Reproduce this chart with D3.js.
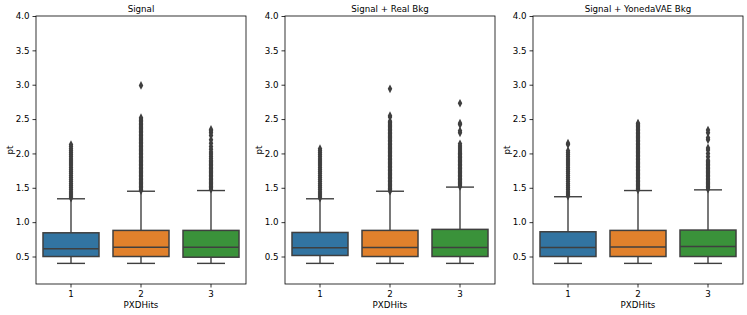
<!DOCTYPE html>
<html><head><meta charset="utf-8">
<script src="https://cdn.jsdelivr.net/npm/d3@7"></script>
<style>body{margin:0;background:#fff}svg{display:block}text{font-family:"DejaVu Sans",sans-serif}</style>
</head><body>
<svg id="c" width="747" height="315"></svg>
<script>
const titles = ["Signal", "Signal + Real Bkg", "Signal + YonedaVAE Bkg"];
const categories = ["1", "2", "3"];
const yTicks = [0.5, 1.0, 1.5, 2.0, 2.5, 3.0, 3.5, 4.0];
const colors = ["#3274a1", "#e1812c", "#3a923a"];

// per panel, per category
const whiskerLow = [[0.4, 0.4, 0.4], [0.4, 0.4, 0.4], [0.4, 0.4, 0.4]];
const q1 = [[0.5, 0.5, 0.49], [0.515, 0.5, 0.5], [0.5, 0.5, 0.5]];
const median = [[0.612, 0.635, 0.635], [0.627, 0.632, 0.63], [0.63, 0.64, 0.645]];
const q3 = [[0.845, 0.88, 0.88], [0.85, 0.88, 0.895], [0.86, 0.88, 0.885]];
const whiskerHigh = [[1.34, 1.45, 1.46], [1.34, 1.45, 1.51], [1.37, 1.46, 1.47]];

const outliers = [
  [
    [1.35,1.38,1.41,1.44,1.47,1.5,1.53,1.56,1.59,1.62,1.65,1.68,1.71,1.74,1.77,1.8,1.83,1.86,1.89,1.92,1.95,1.98,2.01,2.04,2.07,2.1,2.13],
    [1.46,1.48,1.5,1.52,1.54,1.56,1.58,1.6,1.62,1.64,1.66,1.68,1.7,1.72,1.74,1.76,1.78,1.8,1.82,1.84,1.86,1.88,1.9,1.92,1.94,1.96,1.98,2.0,2.02,2.04,2.06,2.08,2.1,2.12,2.14,2.16,2.18,2.2,2.22,2.24,2.26,2.28,2.3,2.32,2.34,2.36,2.38,2.4,2.42,2.44,2.46,2.48,2.5,2.52,2.99],
    [1.48,1.5,1.52,1.54,1.56,1.58,1.6,1.62,1.64,1.66,1.68,1.7,1.72,1.74,1.76,1.78,1.8,1.82,1.84,1.86,1.88,1.9,1.93,1.96,1.99,2.02,2.06,2.1,2.15,2.2,2.26,2.3,2.33,2.35]
  ],
  [
    [1.35,1.38,1.41,1.44,1.47,1.5,1.53,1.56,1.59,1.62,1.65,1.68,1.71,1.74,1.77,1.8,1.83,1.86,1.89,1.92,1.95,1.98,2.01,2.04,2.07],
    [1.45,1.47,1.49,1.51,1.53,1.55,1.57,1.59,1.61,1.63,1.65,1.67,1.69,1.71,1.73,1.75,1.77,1.79,1.81,1.83,1.85,1.87,1.89,1.91,1.93,1.95,1.97,1.99,2.01,2.03,2.05,2.07,2.09,2.11,2.13,2.15,2.17,2.19,2.21,2.23,2.25,2.27,2.29,2.31,2.33,2.35,2.37,2.39,2.41,2.43,2.45,2.47,2.53,2.55,2.94],
    [1.52,1.54,1.56,1.58,1.6,1.62,1.64,1.66,1.68,1.7,1.72,1.74,1.76,1.78,1.8,1.82,1.84,1.86,1.88,1.9,1.92,1.94,1.96,1.98,2.0,2.02,2.05,2.08,2.11,2.14,2.3,2.33,2.42,2.44,2.73]
  ],
  [
    [1.38,1.41,1.44,1.47,1.5,1.53,1.56,1.59,1.62,1.65,1.68,1.71,1.74,1.77,1.8,1.83,1.86,1.89,1.92,1.95,1.98,2.01,2.04,2.13,2.15],
    [1.47,1.49,1.51,1.53,1.55,1.57,1.59,1.61,1.63,1.65,1.67,1.69,1.71,1.73,1.75,1.77,1.79,1.81,1.83,1.85,1.87,1.89,1.91,1.93,1.95,1.97,1.99,2.01,2.03,2.05,2.07,2.09,2.11,2.13,2.15,2.17,2.19,2.21,2.23,2.25,2.27,2.29,2.31,2.33,2.35,2.37,2.39,2.41,2.43,2.44],
    [1.48,1.5,1.52,1.54,1.56,1.58,1.6,1.62,1.64,1.66,1.68,1.7,1.72,1.74,1.76,1.78,1.8,1.82,1.84,1.86,1.88,1.9,1.95,2.0,2.05,2.08,2.2,2.23,2.3,2.34]
  ]
];

const svg = d3.select("#c");
const panelLeft = [36, 285, 533];
const W = 210, yTop = 16, yBottom = 284;
const fs = "8.7px";
const lineCol = "#3f3f3f";

const y = d3.scaleLinear().domain([0.1, 4.0]).range([yBottom, yTop]);

titles.forEach((t, p) => {
  const g = svg.append("g").attr("transform", `translate(${panelLeft[p]},0)`);
  const x = d3.scaleBand().domain(categories).range([0, W]).padding(0);
  const bw = x.bandwidth() * 0.8;

  categories.forEach((c, i) => {
    const cx = x(c) + x.bandwidth() / 2;
    g.append("line").attr("x1", cx).attr("x2", cx).attr("y1", y(whiskerLow[p][i])).attr("y2", y(q1[p][i]))
      .attr("stroke", lineCol).attr("stroke-width", 1.4);
    g.append("line").attr("x1", cx).attr("x2", cx).attr("y1", y(q3[p][i])).attr("y2", y(whiskerHigh[p][i]))
      .attr("stroke", lineCol).attr("stroke-width", 1.4);
    [whiskerLow[p][i], whiskerHigh[p][i]].forEach(v => {
      g.append("line").attr("x1", cx - bw / 4).attr("x2", cx + bw / 4).attr("y1", y(v)).attr("y2", y(v))
        .attr("stroke", lineCol).attr("stroke-width", 1.4);
    });
    g.append("rect").attr("x", cx - bw / 2).attr("width", bw)
      .attr("y", y(q3[p][i])).attr("height", y(q1[p][i]) - y(q3[p][i]))
      .attr("fill", colors[i]).attr("stroke", lineCol).attr("stroke-width", 1.5);
    g.append("line").attr("x1", cx - bw / 2).attr("x2", cx + bw / 2).attr("y1", y(median[p][i])).attr("y2", y(median[p][i]))
      .attr("stroke", lineCol).attr("stroke-width", 1.5);
    const sym = d3.symbol().type(d3.symbolDiamond).size(18);
    g.selectAll(null).data(outliers[p][i]).enter().append("path")
      .attr("d", sym).attr("transform", d => `translate(${cx},${y(d)}) scale(1.0,1.1)`)
      .attr("fill", lineCol);
  });

  const ya = g.append("g").call(d3.axisLeft(y).tickValues(yTicks).tickFormat(d3.format(".1f")).tickSize(3.5).tickPadding(3));
  const xa = g.append("g").attr("transform", `translate(0,${yBottom})`).call(d3.axisBottom(x).tickSize(3.5).tickPadding(3));
  [ya, xa].forEach(a => {
    a.select(".domain").remove();
    a.selectAll("text").style("font-size", fs).attr("fill", "#000");
    a.selectAll("line").attr("stroke", "#000").attr("stroke-width", 0.8);
  });
  g.append("rect").attr("x", 0).attr("y", yTop).attr("width", W).attr("height", yBottom - yTop)
    .attr("fill", "none").attr("stroke", "#000").attr("stroke-width", 0.8);

  g.append("text").attr("x", W / 2).attr("y", 12).attr("text-anchor", "middle").style("font-size", fs).text(t);
  g.append("text").attr("x", W / 2).attr("y", 308).attr("text-anchor", "middle").style("font-size", fs).text("PXDHits");
  g.append("text").attr("transform", `translate(-23,${(yTop + yBottom) / 2}) rotate(-90)`).attr("text-anchor", "middle").style("font-size", fs).text("pt");
});
</script>
</body></html>
